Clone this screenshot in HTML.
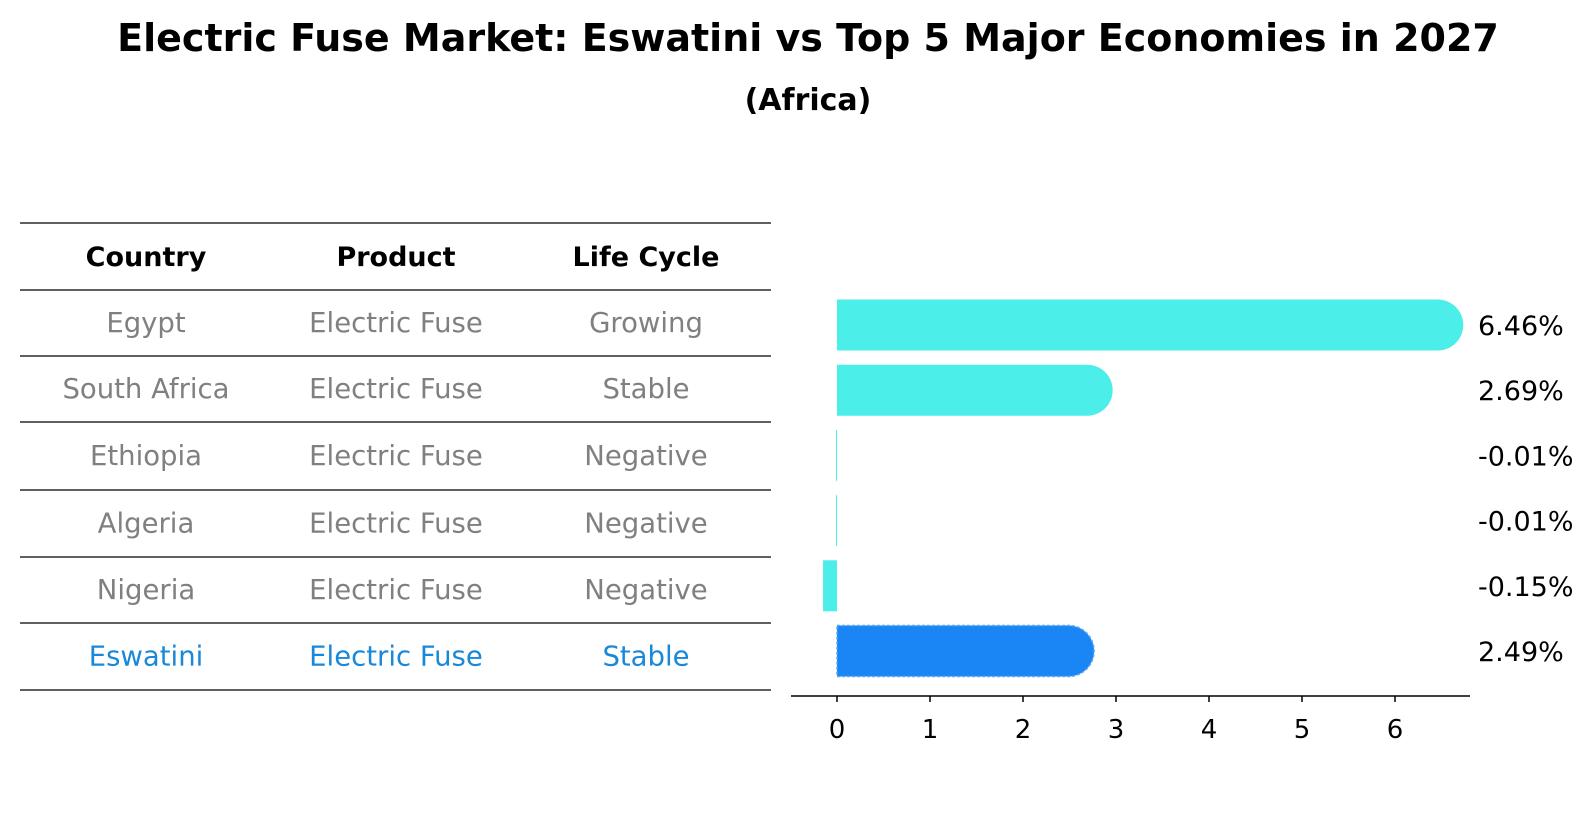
<!DOCTYPE html>
<html><head><meta charset="utf-8"><style>
body{margin:0;background:#fff;}
svg{display:block;font-family:"DejaVu Sans","Liberation Sans",sans-serif;}
</style></head><body>
<svg id="fig" width="1596" height="823" viewBox="0 0 1596 823">
<text x="808" y="51" text-anchor="middle" font-size="38" font-weight="bold">Electric Fuse Market: Eswatini vs Top 5 Major Economies in 2027</text>
<text x="808" y="110" text-anchor="middle" font-size="30" font-weight="bold">(Africa)</text>
<g id="table"></g>
<g id="chart"></g>
</svg>
<script>
const countries=["Egypt","South Africa","Ethiopia","Algeria","Nigeria","Eswatini"];
const products=["Electric Fuse","Electric Fuse","Electric Fuse","Electric Fuse","Electric Fuse","Electric Fuse"];
const lifeCycles=["Growing","Stable","Negative","Negative","Negative","Stable"];
const values=[6.46,2.69,-0.01,-0.01,-0.15,2.49];
const valueLabels=["6.46%","2.69%","-0.01%","-0.01%","-0.15%","2.49%"];
const xTicks=[0,1,2,3,4,5,6];

const NS="http://www.w3.org/2000/svg";
function mk(tag,attrs,parent){const e=document.createElementNS(NS,tag);for(const k in attrs)e.setAttribute(k,attrs[k]);parent.appendChild(e);return e;}
const table=document.getElementById('table');
const chart=document.getElementById('chart');
const lineYs=[223,290,356,422,490,557,623,690];
const colX=[146,396,646];
const headers=["Country","Product","Life Cycle"];
lineYs.forEach((y,i)=>{const l=mk('line',{x1:20,x2:771,y1:y,y2:y,stroke:'#000','stroke-width':1.2},table);

});
headers.forEach((h,i)=>{const t=mk('text',{x:colX[i],y:266,'text-anchor':'middle','font-size':27,'font-weight':'bold'},table);t.textContent=h;

});
countries.forEach((c,r)=>{const y=(lineYs[r+1]+lineYs[r+2])/2+9;const col=r===countries.length-1?'#1a88d8':'#808080';
[c,products[r],lifeCycles[r]].forEach((v,i)=>{const t=mk('text',{x:colX[i],y:y,'text-anchor':'middle','font-size':27.5,fill:col},table);t.textContent=v;

});});

const x0=837,unit=93;
function xs(v){return x0+v*unit;}
function yc(i){return 325+i*65.2;}
const bh=51,r=25.5;
values.forEach((v,i)=>{
  const last=i===values.length-1;
  const fill=last?'#1a85f5':'#4beee8';
  const y=yc(i)-bh/2;
  let el;
  if(v>0.3){
    const xe=xs(v);
    const d=`M${x0},${y} L${xe},${y} A${r},${r} 0 0 1 ${xe},${y+bh} L${x0},${y+bh} Z`;
    el=mk('path',{d:d,fill:fill},chart);
    if(last){el.setAttribute('stroke','#5aa8f0');el.setAttribute('stroke-width',1.5);el.setAttribute('stroke-dasharray','3,2');}
  } else {
    const a=Math.min(xs(v),x0),w=Math.max(Math.abs(xs(v)-x0),1);
    el=mk('rect',{x:a,y:y,width:w,height:bh,fill:fill},chart);
  }
  
  
  const t=mk('text',{x:1478,y:yc(i)+10,'font-size':27},chart);t.textContent=valueLabels[i];
  
  
});
const ax=mk('line',{x1:791,x2:1470,y1:696,y2:696,stroke:'#000','stroke-width':1.5},chart);


xTicks.forEach(v=>{const tk=mk('line',{x1:xs(v),x2:xs(v),y1:696,y2:702,stroke:'#000','stroke-width':1.5},chart);


const t=mk('text',{x:xs(v),y:738,'text-anchor':'middle','font-size':26},chart);t.textContent=v;

});
</script>
</body></html>
